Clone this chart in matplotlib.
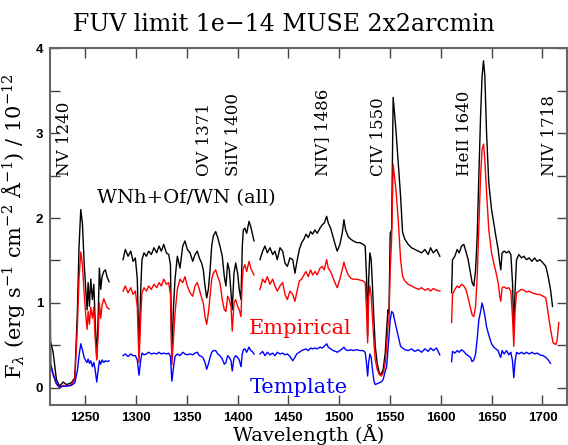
import numpy as np
import matplotlib.pyplot as plt

plt.rcParams['mathtext.fontset'] = 'dejavuserif'

# spectra are stored as separate segments (gaps between them)
wave_black = [
    [1216.3, 1218.6, 1221.8, 1225.0, 1228.4, 1231.6, 1236.5, 1239.9, 1242.4, 1244.1, 1245.8, 1247.4,
     1249.1, 1250.7, 1252.0, 1253.0, 1254.3, 1255.6, 1257.2, 1258.6, 1259.9, 1261.5, 1262.8, 1264.1,
     1265.4, 1266.7, 1268.4, 1270.0, 1271.6, 1273.6],
    [1287.4, 1289.6, 1292.3, 1295.0, 1297.2, 1299.5, 1301.4, 1303.1, 1304.8, 1306.0, 1308.0, 1310.3,
     1312.6, 1315.2, 1317.8, 1320.5, 1322.8, 1325.0, 1327.4, 1330.0, 1332.3, 1334.0, 1335.4, 1336.8,
     1338.5, 1340.8, 1343.4, 1346.1, 1348.3, 1350.6, 1353.3, 1355.9, 1358.2, 1360.4, 1362.4, 1364.7,
     1366.3, 1368.0, 1369.7, 1371.3, 1373.0, 1374.6, 1376.2, 1378.5, 1380.5, 1382.7, 1385.0, 1387.0,
     1388.6, 1390.3, 1391.9, 1393.6, 1394.8, 1396.5, 1398.2, 1400.1, 1401.7, 1403.4, 1404.7, 1405.7,
     1407.3, 1409.0, 1411.3, 1413.0, 1414.5, 1416.2],
    [1422.1, 1424.7, 1427.0, 1429.3, 1431.9, 1434.6, 1436.8, 1439.1, 1441.8, 1444.4, 1446.7, 1449.0,
     1451.6, 1454.3, 1456.5, 1458.2, 1460.8, 1463.1, 1465.3, 1467.3, 1469.6, 1471.9, 1473.9, 1476.1,
     1478.4, 1481.1, 1483.3, 1485.3, 1487.7, 1489.3, 1491.6, 1494.2, 1496.5, 1498.1, 1500.7, 1503.0,
     1504.7, 1506.3, 1508.9, 1511.5, 1513.9, 1517.2, 1520.4, 1523.6, 1525.6, 1527.0, 1528.0, 1529.0,
     1530.2, 1531.5, 1532.9, 1534.2, 1535.5, 1537.4, 1539.4, 1541.4, 1543.3, 1545.3, 1546.7, 1548.0,
     1549.0, 1550.2, 1551.6, 1553.1, 1555.8, 1558.1, 1560.4, 1562.4, 1564.6, 1567.9, 1571.2, 1574.5,
     1577.8, 1581.1, 1584.3, 1587.6, 1589.9, 1592.5, 1595.8, 1599.0],
    [1610.6, 1611.5, 1613.8, 1616.1, 1618.1, 1620.4, 1622.6, 1624.6, 1626.9, 1629.2, 1630.8, 1632.5,
     1634.2, 1635.8, 1637.4, 1639.1, 1640.6, 1642.0, 1643.3, 1645.0, 1647.2, 1649.9, 1652.1, 1654.1,
     1656.4, 1658.0, 1659.0, 1660.3, 1662.3, 1664.6, 1666.9, 1668.9, 1670.5, 1671.8, 1673.1, 1674.5,
     1676.8, 1679.4, 1681.7, 1684.3, 1686.9, 1689.6, 1692.2, 1694.8, 1697.4, 1700.6, 1703.3, 1705.6,
     1707.9, 1709.9],
]
flux_black = [
    [0.53, 0.42, 0.10, 0.02, 0.07, 0.04, 0.06, 0.12, 0.88, 1.67, 2.10, 1.94,
     1.47, 1.16, 0.92, 1.24, 0.96, 1.28, 1.04, 1.22, 0.80, 0.35, 0.80, 1.41,
     1.16, 1.31, 1.37, 1.39, 1.31, 1.25],
    [1.51, 1.63, 1.55, 1.61, 1.49, 1.53, 1.28, 0.45, 1.16, 1.51, 1.59, 1.55,
     1.61, 1.57, 1.65, 1.59, 1.67, 1.61, 1.69, 1.59, 1.57, 1.45, 0.35, 0.90,
     1.28, 1.55, 1.41, 1.67, 1.73, 1.63, 1.59, 1.49, 1.57, 1.61, 1.53, 1.47,
     1.39, 1.20, 1.06, 1.16, 1.39, 1.67, 1.79, 1.84, 1.77, 1.67, 1.55, 1.31,
     1.20, 1.47, 1.39, 1.12, 0.92, 1.35, 1.47, 1.35, 1.16, 1.04, 1.67, 1.86,
     1.88, 1.82, 1.96, 1.90, 1.82, 1.73],
    [1.51, 1.61, 1.67, 1.59, 1.65, 1.57, 1.61, 1.51, 1.65, 1.61, 1.47, 1.43,
     1.53, 1.51, 1.35, 1.47, 1.63, 1.71, 1.75, 1.81, 1.77, 1.84, 1.81, 1.86,
     1.82, 1.88, 1.92, 1.94, 2.02, 1.94, 1.88, 1.77, 1.67, 1.61, 1.69, 1.82,
     1.98, 1.86, 1.78, 1.75, 1.73, 1.71, 1.71, 1.69, 1.67, 1.28, 0.62, 1.28,
     1.59, 1.51, 1.16, 0.80, 0.49, 0.29, 0.18, 0.16, 0.22, 0.41, 0.69, 0.92,
     0.88, 1.82, 1.86, 3.42, 3.04, 2.65, 2.26, 1.83, 1.75, 1.69, 1.65, 1.63,
     1.61, 1.59, 1.63, 1.57, 1.65, 1.59, 1.63, 1.55],
    [1.12, 1.51, 1.55, 1.63, 1.59, 1.67, 1.69, 1.61, 1.51, 1.35, 1.24, 1.20,
     1.39, 1.79, 2.49, 3.20, 3.67, 3.85, 3.67, 3.00, 2.41, 2.10, 1.94, 1.79,
     1.63, 1.47, 1.39, 1.59, 1.61, 1.59, 1.61, 1.57, 1.24, 0.69, 1.16, 1.51,
     1.57, 1.53, 1.55, 1.51, 1.53, 1.49, 1.53, 1.49, 1.51, 1.47, 1.43, 1.31,
     1.16, 0.96],
]

wave_red = [
    wave_black[0], wave_black[1], wave_black[2],
    wave_black[3][:-2] + [1707.9, 1710.5, 1713.2, 1714.5, 1716.1],
]
flux_red = [
    [0.25, 0.15, 0.05, 0.00, 0.03, 0.02, 0.04, 0.10, 0.70, 1.30, 1.60, 1.45,
     1.12, 0.85, 0.69, 0.90, 0.75, 0.95, 0.82, 0.95, 0.60, 0.33, 0.60, 1.00,
     0.82, 0.97, 1.05, 1.00, 0.95, 0.93],
    [1.14, 1.20, 1.12, 1.18, 1.10, 1.14, 0.95, 0.30, 0.85, 1.12, 1.18, 1.14,
     1.20, 1.16, 1.22, 1.18, 1.24, 1.20, 1.28, 1.22, 1.24, 1.10, 0.27, 0.55,
     0.88, 1.16, 1.28, 1.24, 1.31, 1.20, 1.12, 1.08, 1.20, 1.24, 1.16, 1.06,
     1.00, 0.84, 0.75, 0.88, 1.08, 1.28, 1.35, 1.39, 1.31, 1.24, 1.04, 0.92,
     0.90, 1.08, 1.04, 0.96, 0.67, 1.00, 1.04, 0.96, 0.92, 0.84, 1.28, 1.41,
     1.45, 1.37, 1.49, 1.41, 1.37, 1.33],
    [1.16, 1.28, 1.24, 1.31, 1.22, 1.28, 1.20, 1.14, 1.20, 1.24, 1.10, 1.04,
     1.14, 1.10, 1.02, 1.12, 1.26, 1.28, 1.33, 1.37, 1.31, 1.39, 1.33, 1.37,
     1.33, 1.41, 1.43, 1.39, 1.51, 1.41, 1.37, 1.29, 1.22, 1.18, 1.28, 1.39,
     1.48, 1.41, 1.33, 1.29, 1.28, 1.28, 1.27, 1.26, 1.24, 0.88, 0.53, 1.06,
     1.20, 1.08, 0.80, 0.53, 0.33, 0.22, 0.16, 0.14, 0.18, 0.29, 0.49, 0.73,
     0.80, 1.39, 1.75, 2.63, 2.34, 1.98, 1.51, 1.31, 1.26, 1.22, 1.20, 1.18,
     1.16, 1.18, 1.15, 1.17, 1.14, 1.17, 1.15, 1.14],
    [0.77, 1.10, 1.16, 1.20, 1.18, 1.22, 1.20, 1.16, 1.06, 0.94, 0.86, 0.84,
     0.96, 1.31, 1.90, 2.49, 2.81, 2.87, 2.69, 2.30, 1.86, 1.59, 1.47, 1.37,
     1.24, 1.08, 1.02, 1.18, 1.19, 1.17, 1.18, 1.14, 0.84, 0.49, 0.92, 1.12,
     1.14, 1.16, 1.15, 1.13, 1.14, 1.12, 1.11, 1.10, 1.10, 1.08, 1.06, 0.88,
     0.69, 0.53, 0.51, 0.57, 0.77],
]

wave_blue = [
    [1215.6, 1215.7] + wave_black[0],
    wave_black[1],
    wave_black[2],
    wave_black[3][:-2] + [1707.9],
]
flux_blue = [
    [2.12, 1.07, 0.28, 0.17, 0.05, 0.01, 0.02, 0.02, 0.03, 0.06, 0.20, 0.38, 0.52, 0.45,
     0.36, 0.32, 0.30, 0.34, 0.29, 0.32, 0.25, 0.30, 0.22, 0.07, 0.20, 0.32,
     0.28, 0.33, 0.30, 0.32, 0.31, 0.32],
    [0.38, 0.40, 0.37, 0.40, 0.38, 0.38, 0.33, 0.15, 0.33, 0.41, 0.39, 0.40,
     0.42, 0.40, 0.41, 0.40, 0.42, 0.40, 0.41, 0.40, 0.41, 0.37, 0.08, 0.22,
     0.37, 0.40, 0.38, 0.42, 0.40, 0.39, 0.40, 0.39, 0.41, 0.42, 0.38, 0.37,
     0.35, 0.30, 0.22, 0.28, 0.36, 0.42, 0.44, 0.44, 0.40, 0.38, 0.34, 0.28,
     0.30, 0.38, 0.36, 0.32, 0.20, 0.35, 0.38, 0.36, 0.33, 0.25, 0.40, 0.45,
     0.46, 0.42, 0.48, 0.44, 0.43, 0.40],
    [0.40, 0.43, 0.38, 0.42, 0.39, 0.41, 0.38, 0.42, 0.40, 0.41, 0.39, 0.40,
     0.37, 0.32, 0.36, 0.40, 0.42, 0.44, 0.45, 0.46, 0.44, 0.47, 0.46, 0.47,
     0.46, 0.48, 0.47, 0.49, 0.52, 0.48, 0.46, 0.44, 0.43, 0.42, 0.44, 0.46,
     0.48, 0.45, 0.44, 0.45, 0.44, 0.45, 0.44, 0.44, 0.42, 0.28, 0.14, 0.30,
     0.40, 0.36, 0.20, 0.08, 0.04, 0.05, 0.06, 0.07, 0.10, 0.20, 0.25, 0.45,
     0.60, 0.80, 0.90, 0.88, 0.73, 0.61, 0.49, 0.47, 0.45, 0.44, 0.46, 0.43,
     0.45, 0.42, 0.46, 0.43, 0.47, 0.44, 0.47, 0.39],
    [0.31, 0.43, 0.41, 0.44, 0.42, 0.45, 0.43, 0.40, 0.38, 0.36, 0.31, 0.33,
     0.40, 0.58, 0.80, 0.90, 1.00, 0.93, 0.85, 0.72, 0.62, 0.52, 0.48, 0.46,
     0.44, 0.38, 0.36, 0.44, 0.40, 0.44, 0.39, 0.42, 0.32, 0.12, 0.32, 0.42,
     0.40, 0.42, 0.40, 0.42, 0.40, 0.42, 0.40, 0.41, 0.39, 0.38, 0.36, 0.33,
     0.29],
]

line_ids = ['NV 1240', 'OV 1371', 'SiIV 1400', 'NIV] 1486', 'CIV 1550', 'HeII 1640', 'NIV 1718']
line_label_x = [1238, 1376, 1404, 1492, 1547, 1632, 1715]

fig = plt.figure(figsize=(5.68, 4.45), dpi=100)
ax = fig.add_axes([0.088, 0.09, 0.91, 0.802])

for w, f in zip(wave_black, flux_black):
    ax.plot(w, f, color='black', lw=1.0)
for w, f in zip(wave_red, flux_red):
    ax.plot(w, f, color='red', lw=1.0)
for w, f in zip(wave_blue, flux_blue):
    ax.plot(w, f, color='blue', lw=1.0)

for name, x in zip(line_ids, line_label_x):
    ax.text(x, 2.5, name, rotation=90, ha='right', va='bottom',
            family='DejaVu Serif', fontsize=12)

ax.text(1262, 2.17, 'WNh+Of/WN (all)', family='DejaVu Serif', fontsize=14, color='black')
ax.text(1411, 0.64, 'Empirical', family='DejaVu Serif', fontsize=15, color='red')
ax.text(1412, -0.06, 'Template', family='DejaVu Serif', fontsize=15, color='blue')

ax.set_xlim(1215.5, 1724)
ax.set_ylim(-0.2, 4.0)
ax.set_xticks(np.arange(1250, 1701, 50))
ax.set_yticks([0, 1, 2, 3, 4])
ax.set_yticks(np.arange(0, 4.01, 0.5), minor=True)
ax.tick_params(which='both', direction='in', top=True, right=True, length=7,
               width=1.0, color='#444444', pad=5)
for lab in ax.get_xticklabels() + ax.get_yticklabels():
    lab.set_family('Liberation Sans')
    lab.set_fontweight('bold')
    lab.set_fontsize(9.5)
for s in ax.spines.values():
    s.set_color('#666666')
    s.set_linewidth(1.5)

ax.set_xlabel('Wavelength (Å)', family='DejaVu Serif', fontsize=14, labelpad=0)
ax.set_ylabel(r'F$_\lambda$ (erg s$^{-1}$ cm$^{-2}$ Å$^{-1}$) / 10$^{-12}$',
              family='DejaVu Serif', fontsize=15, labelpad=6)
fig.text(0.5, 0.946, 'FUV limit 1e\u221214 MUSE 2x2arcmin', ha='center', va='center',
         family='DejaVu Serif', fontsize=17)

fig.savefig('out.png', dpi=100)
